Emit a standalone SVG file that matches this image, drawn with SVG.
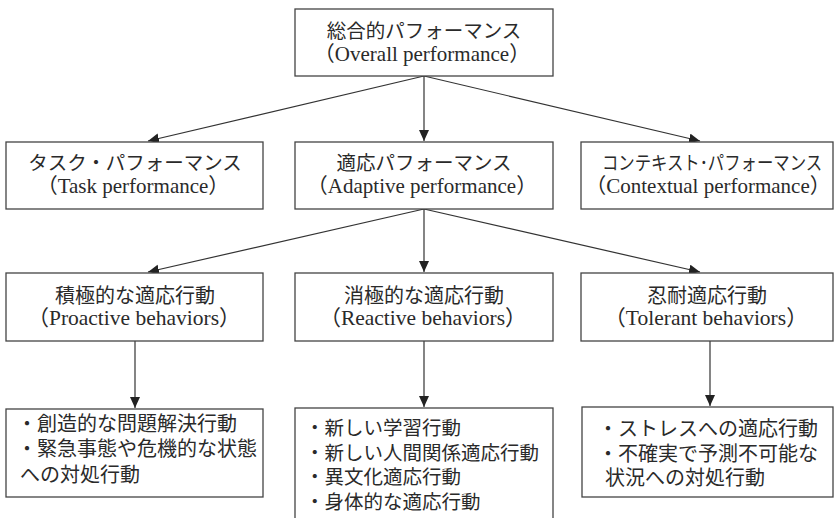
<svg xmlns="http://www.w3.org/2000/svg" width="834" height="518" viewBox="0 0 834 518">
<style>
.box{fill:#fff;stroke:#444;stroke-width:1.3}
.t{font-family:"Liberation Serif","Noto Sans CJK JP",serif;fill:#2a2a2a}
.c{text-anchor:middle;font-size:19.5px}
.e{text-anchor:middle;font-size:21px}
.c2{text-anchor:middle;font-size:20px}
.e2{text-anchor:middle;font-size:21.5px}
.l{font-size:20px}
.m{font-size:19.5px}
.con line{stroke:#333;stroke-width:1.2}
</style>
<defs>
<marker id="ah" markerUnits="userSpaceOnUse" markerWidth="12" markerHeight="11" refX="11" refY="5" orient="auto">
<path d="M0,0 L11,5 L0,10 z" fill="#222"/>
</marker>
</defs>
<rect width="834" height="518" fill="#fff"/>
<g class="con">
<line x1="424" y1="76" x2="148" y2="141" marker-end="url(#ah)"/>
<line x1="424" y1="76" x2="424" y2="141" marker-end="url(#ah)"/>
<line x1="424" y1="76" x2="700" y2="141" marker-end="url(#ah)"/>
<line x1="424" y1="209" x2="148" y2="272" marker-end="url(#ah)"/>
<line x1="424" y1="209" x2="424" y2="272" marker-end="url(#ah)"/>
<line x1="424" y1="209" x2="700" y2="272" marker-end="url(#ah)"/>
<line x1="135" y1="341" x2="135" y2="408" marker-end="url(#ah)"/>
<line x1="424" y1="341" x2="424" y2="407" marker-end="url(#ah)"/>
<line x1="710" y1="341" x2="710" y2="406" marker-end="url(#ah)"/>
</g>
<g id="overall">
<rect class="box" x="295" y="9" width="258" height="67"/>
<text class="t c" x="424" y="38">総合的パフォーマンス</text>
<text class="t e" x="422" y="61">（Overall performance）</text>
</g>
<g id="task">
<rect class="box" x="6" y="142" width="257" height="67"/>
<text class="t c" x="135" y="170">タスク・パフォーマンス</text>
<text class="t e" x="133" y="193">（Task performance）</text>
</g>
<g id="adaptive">
<rect class="box" x="295" y="142" width="258" height="67"/>
<text class="t c" x="424" y="170">適応パフォーマンス</text>
<text class="t e" x="422" y="193">（Adaptive performance）</text>
</g>
<g id="contextual">
<rect class="box" x="581" y="142" width="252" height="67"/>
<text class="t" transform="translate(712,170) scale(0.862,1)" font-size="19" text-anchor="middle">コンテキスト･パフォーマンス</text>
<text class="t e" x="708" y="193">（Contextual performance）</text>
</g>
<g id="proactive">
<rect class="box" x="6" y="273" width="257" height="68"/>
<text class="t c2" x="135" y="303">積極的な適応行動</text>
<text class="t e2" x="134" y="325">（Proactive behaviors）</text>
</g>
<g id="reactive">
<rect class="box" x="295" y="273" width="258" height="68"/>
<text class="t c2" x="424" y="303">消極的な適応行動</text>
<text class="t e2" x="423" y="325">（Reactive behaviors）</text>
</g>
<g id="tolerant">
<rect class="box" x="581" y="273" width="252" height="68"/>
<text class="t c2" x="707" y="303">忍耐適応行動</text>
<text class="t e2" x="706" y="325">（Tolerant behaviors）</text>
</g>
<g id="proactive-list">
<rect class="box" x="6" y="409" width="257" height="88"/>
<text class="t l" x="17" y="431">・創造的な問題解決行動</text>
<text class="t l" x="17" y="456">・緊急事態や危機的な状態</text>
<text class="t l" x="20" y="482">への対処行動</text>
</g>
<g id="reactive-list">
<rect class="box" x="295" y="408" width="258" height="115"/>
<text class="t m" x="305" y="435">・新しい学習行動</text>
<text class="t m" x="305" y="460">・新しい人間関係適応行動</text>
<text class="t m" x="305" y="484">・異文化適応行動</text>
<text class="t m" x="305" y="509">・身体的な適応行動</text>
</g>
<g id="tolerant-list">
<rect class="box" x="582" y="407" width="251" height="90"/>
<text class="t l" x="598" y="436">・ストレスへの適応行動</text>
<text class="t l" x="598" y="461">・不確実で予測不可能な</text>
<text class="t l" x="605" y="485">状況への対処行動</text>
</g>
</svg>
